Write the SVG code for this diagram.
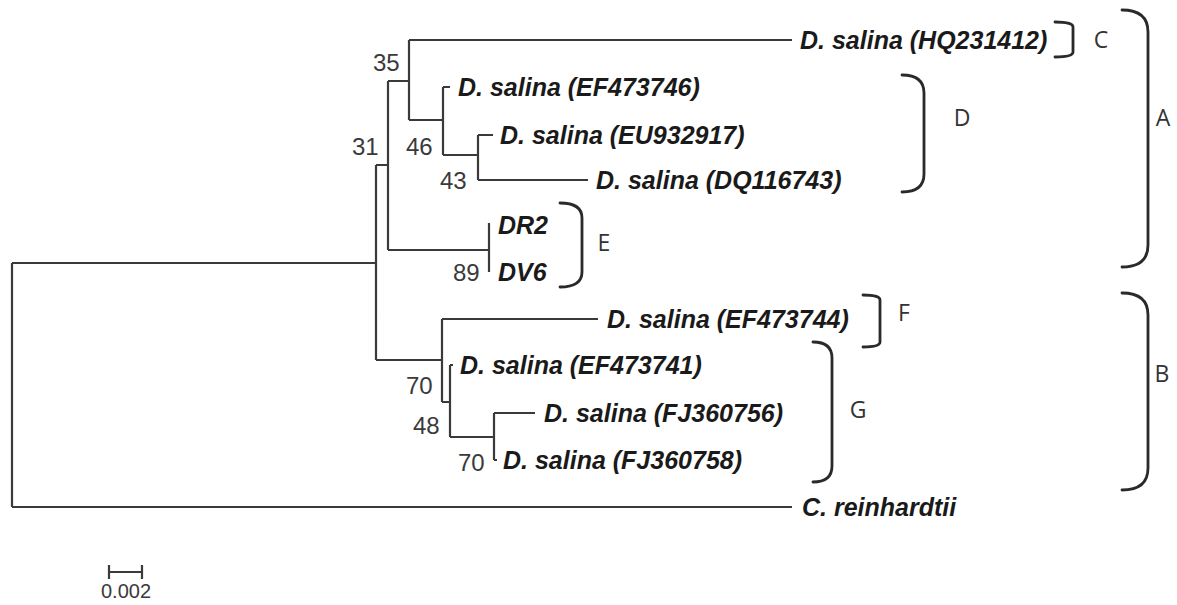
<svg xmlns="http://www.w3.org/2000/svg" width="1177" height="605" viewBox="0 0 1177 605">
<style>
.br{fill:none;stroke:#3a3a3a;stroke-width:2.2}
.bk{fill:none;stroke:#2a2a2a;stroke-width:2.8;stroke-linecap:round}
.lf{font-family:"Liberation Sans",Arial,sans-serif;font-size:25px;font-weight:bold;font-style:italic;fill:#1a1a1a}
.bs{font-family:"Liberation Sans",Arial,sans-serif;font-size:24px;fill:#3a3a3a}
.gl{font-family:"Open Sans","Noto Sans",sans-serif;font-size:23px;fill:#333;text-anchor:middle}
</style>
<rect width="1177" height="605" fill="#fff"/>
<g id="connectors">
<path class="br" d="M12,263 V507 M12,263 H376 M12,507 H792
M376,165 V360 M376,165 H388 M376,360 H442
M388,81 V250 M388,81 H409 M388,250 H489
M409,40 V120 M409,40 H792 M409,120 H443
M443,87 V155 M443,87 H450 M443,155 H478
M478,135 V180 M478,135 H493 M478,180 H588
M489,223 V272
M442,319 V402 M442,319 H598 M442,402 H450
M450,365 V437 M450,365 H453 M450,437 H494
M494,413 V460 M494,413 H535 M494,460 H497"/>
</g>
<g id="leaf-HQ231412"><text class="lf" x="800" y="49">D. salina (HQ231412)</text></g>
<g id="leaf-EF473746"><text class="lf" x="458" y="96">D. salina (EF473746)</text></g>
<g id="leaf-EU932917"><text class="lf" x="500" y="144">D. salina (EU932917)</text></g>
<g id="leaf-DQ116743"><text class="lf" x="596" y="189">D. salina (DQ116743)</text></g>
<g id="leaf-DR2"><text class="lf" x="498" y="234">DR2</text></g>
<g id="leaf-DV6"><text class="lf" x="498" y="281">DV6</text></g>
<g id="leaf-EF473744"><text class="lf" x="607" y="328">D. salina (EF473744)</text></g>
<g id="leaf-EF473741"><text class="lf" x="460" y="374">D. salina (EF473741)</text></g>
<g id="leaf-FJ360756"><text class="lf" x="544" y="422">D. salina (FJ360756)</text></g>
<g id="leaf-FJ360758"><text class="lf" x="503" y="469">D. salina (FJ360758)</text></g>
<g id="leaf-Creinhardtii"><text class="lf" x="802" y="516">C. reinhardtii</text></g>
<g id="bs-35"><text class="bs" x="373" y="71">35</text></g>
<g id="bs-31"><text class="bs" x="352" y="155">31</text></g>
<g id="bs-46"><text class="bs" x="406" y="155">46</text></g>
<g id="bs-43"><text class="bs" x="440" y="189">43</text></g>
<g id="bs-89"><text class="bs" x="453" y="281">89</text></g>
<g id="bs-70a"><text class="bs" x="406" y="394">70</text></g>
<g id="bs-48"><text class="bs" x="413" y="434">48</text></g>
<g id="bs-70b"><text class="bs" x="458" y="471">70</text></g>
<g id="group-C"><path class="bk" d="M1055,22 Q1073,22 1073,27 V52 Q1073,57 1055,57"/><text class="gl" x="1101" y="48">C</text></g>
<g id="group-D"><path class="bk" d="M902,75 Q924,75 924,93 V174 Q924,192 902,192"/><text class="gl" x="962" y="126">D</text></g>
<g id="group-E"><path class="bk" d="M560,203 Q582,203 582,218 V272 Q582,287 560,287"/><text class="gl" x="604" y="251">E</text></g>
<g id="group-F"><path class="bk" d="M863,295 Q880,295 880,300 V342 Q880,347 863,347"/><text class="gl" x="904" y="321">F</text></g>
<g id="group-G"><path class="bk" d="M813,342 Q832,342 832,358 V466 Q832,482 813,482"/><text class="gl" x="858" y="418">G</text></g>
<g id="group-A"><path class="bk" d="M1122,10 Q1148,10 1148,32 V245 Q1148,267 1122,267"/><text class="gl" x="1163" y="126">A</text></g>
<g id="group-B"><path class="bk" d="M1122,293 Q1148,293 1148,315 V468 Q1148,490 1122,490"/><text class="gl" x="1162" y="382">B</text></g>
<g id="scale-bar">
<path class="br" d="M109,572 H142 M109,565 V579 M142,565 V579"/>
<text class="bs" x="126" y="598" text-anchor="middle" style="font-size:20px">0.002</text>
</g>
</svg>
